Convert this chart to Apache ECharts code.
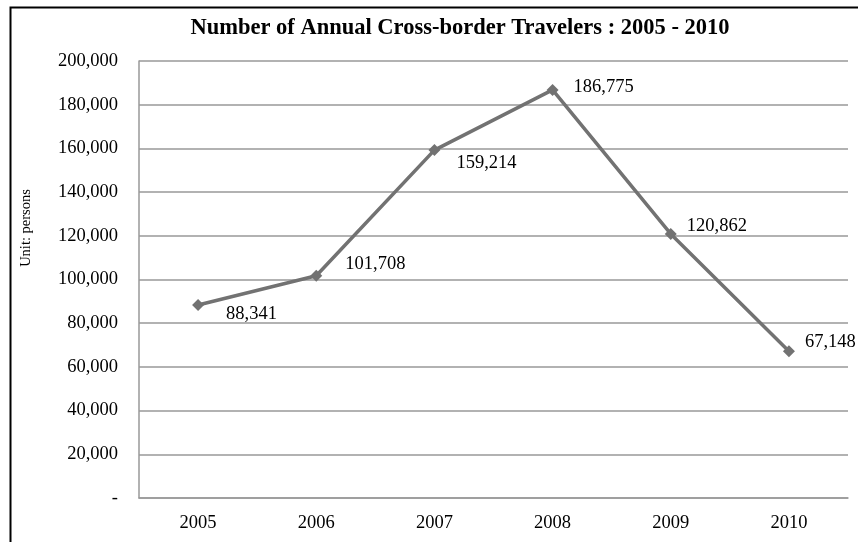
<!DOCTYPE html>
<html><head><meta charset="utf-8">
<script src="https://cdn.jsdelivr.net/npm/echarts@6/dist/echarts.min.js"></script>
<style>html,body{margin:0;padding:0;background:#fff}#c{width:858px;height:542px}</style>
</head><body><div id="c"></div>
<script>
const years = ['2005','2006','2007','2008','2009','2010'];
const travelers = [88341, 101708, 159214, 186775, 120862, 67148];
const yTickLabels = ['-', '20,000', '40,000', '60,000', '80,000', '100,000', '120,000', '140,000', '160,000', '180,000', '200,000'];
const labelOffsets = [[17, 9], [18, -12], [11, 13], [10, -3], [5, -8], [5, -9]];

const chart = echarts.init(document.getElementById('c'), null, {renderer: 'canvas'});
const serif = '"Liberation Serif", "DejaVu Serif", serif';
const fmt = v => v.toLocaleString('en-US');
chart.setOption({
  animation: false,
  backgroundColor: '#fff',
  title: {
    text: 'Number of Annual Cross-border Travelers : 2005 - 2010',
    left: 455, top: 12, textAlign: 'center',
    textStyle: {fontFamily: serif, fontWeight: 'bold', fontSize: 22.5, color: '#000'}
  },
  graphic: [{
    type: 'rect', left: 8, top: 5,
    shape: {width: 900, height: 600},
    style: {fill: 'none', stroke: '#000', lineWidth: 2}, silent: true, z: -1
  }, {
    type: 'text', x: 26, y: 228, rotation: Math.PI / 2,
    style: {text: 'Unit: persons', fontFamily: serif, fontSize: 14.5, fill: '#000',
            textAlign: 'center', textVerticalAlign: 'middle'}
  }],
  grid: {left: 139, right: 10, top: 61, bottom: 44},
  xAxis: {
    type: 'category', data: years, boundaryGap: true,
    axisLine: {lineStyle: {color: '#999', width: 1.5}},
    axisTick: {show: false},
    axisLabel: {fontFamily: serif, fontSize: 18.5, color: '#000', margin: 16}
  },
  yAxis: {
    type: 'value', min: 0, max: 200000, interval: 20000,
    axisLine: {show: true, lineStyle: {color: '#999', width: 1.5}},
    axisTick: {show: false},
    splitLine: {lineStyle: {color: '#999', width: 1.5}},
    axisLabel: {
      fontFamily: serif, fontSize: 18.5, color: '#000', margin: 21,
      formatter: v => yTickLabels[Math.round(v / 20000)]
    }
  },
  series: [{
    type: 'line',
    data: travelers.map((v, i) => ({
      value: v,
      label: {offset: labelOffsets[i]}
    })),
    symbol: 'diamond', symbolSize: 12,
    lineStyle: {color: '#727272', width: 3.5},
    itemStyle: {color: '#727272'},
    label: {
      show: true, position: 'right',
      fontFamily: serif, fontSize: 18.5, color: '#000',
      formatter: p => fmt(p.value)
    }
  }]
});
</script></body></html>
